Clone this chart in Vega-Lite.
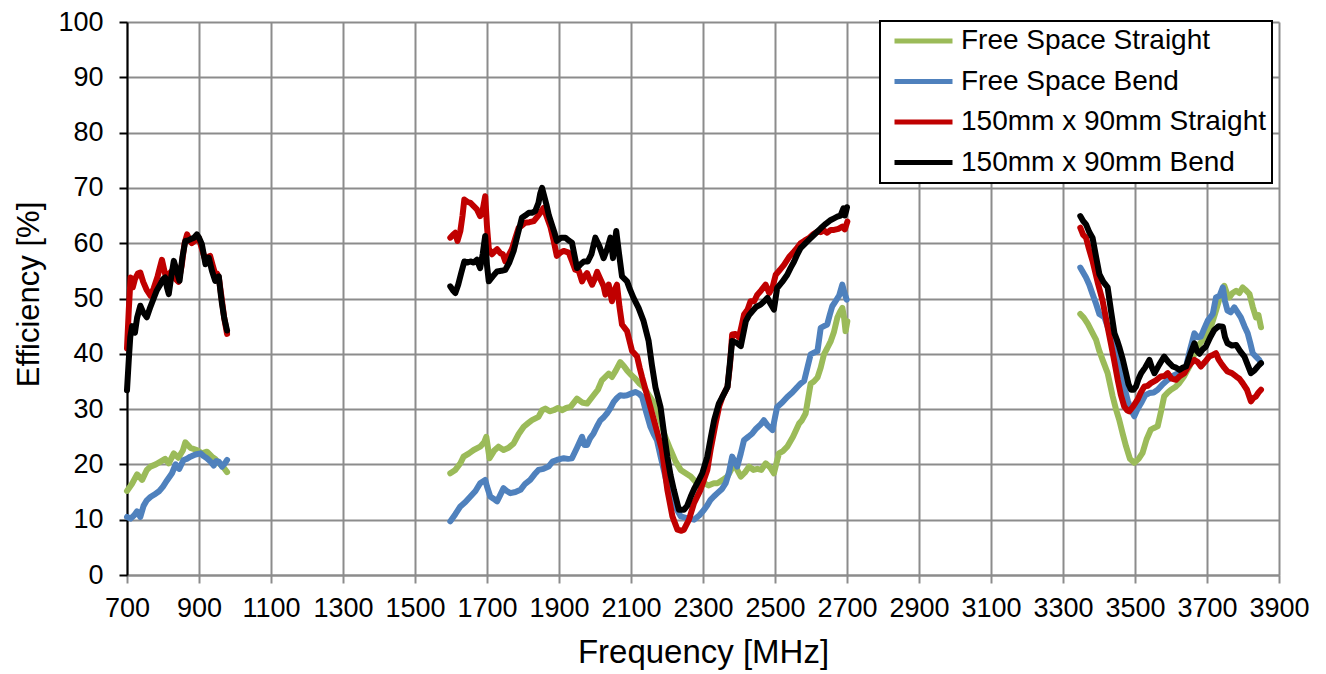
{
"$schema": "https://vega.github.io/schema/vega-lite/v6.json",
"width": 1152, "height": 553,
"autosize": {"type": "none"},
"padding": {"left": 127, "top": 22, "right": 47, "bottom": 99},
"background": "white",
"config": {"view": {"stroke": null}, "font": "Liberation Sans", "legend": {"strokeWidth": 2}},
"datasets": {
"names": [
{"s":"g","name":"Free Space Straight"},
{"s":"b","name":"Free Space Bend"},
{"s":"r","name":"150mm x 90mm Straight"},
{"s":"k","name":"150mm x 90mm Bend"}
]},
"data": {"values": [
{"s":"g","b":1,"f":700,"v":15.2},{"s":"g","b":1,"f":714,"v":16.5},{"s":"g","b":1,"f":728,"v":18.2},{"s":"g","b":1,"f":742,"v":17.2},{"s":"g","b":1,"f":755,"v":19.0},{"s":"g","b":1,"f":765,"v":19.6},{"s":"g","b":1,"f":780,"v":20.0},{"s":"g","b":1,"f":793,"v":20.5},{"s":"g","b":1,"f":806,"v":21.0},{"s":"g","b":1,"f":816,"v":20.2},{"s":"g","b":1,"f":830,"v":22.0},{"s":"g","b":1,"f":843,"v":21.2},{"s":"g","b":1,"f":855,"v":22.5},{"s":"g","b":1,"f":862,"v":24.0},{"s":"g","b":1,"f":876,"v":23.0},{"s":"g","b":1,"f":894,"v":22.6},{"s":"g","b":1,"f":908,"v":22.0},{"s":"g","b":1,"f":922,"v":22.3},{"s":"g","b":1,"f":936,"v":21.4},{"s":"g","b":1,"f":945,"v":21.0},{"s":"g","b":1,"f":955,"v":20.2},{"s":"g","b":1,"f":964,"v":19.8},{"s":"g","b":1,"f":978,"v":18.6},
{"s":"g","b":2,"f":1598,"v":18.4},{"s":"g","b":2,"f":1612,"v":19.0},{"s":"g","b":2,"f":1626,"v":20.2},{"s":"g","b":2,"f":1635,"v":21.4},{"s":"g","b":2,"f":1650,"v":22.0},{"s":"g","b":2,"f":1663,"v":22.6},{"s":"g","b":2,"f":1681,"v":23.2},{"s":"g","b":2,"f":1692,"v":24.0},{"s":"g","b":2,"f":1698,"v":25.0},{"s":"g","b":2,"f":1707,"v":21.1},{"s":"g","b":2,"f":1720,"v":22.5},{"s":"g","b":2,"f":1732,"v":23.2},{"s":"g","b":2,"f":1746,"v":22.6},{"s":"g","b":2,"f":1760,"v":23.0},{"s":"g","b":2,"f":1774,"v":23.8},{"s":"g","b":2,"f":1788,"v":25.5},{"s":"g","b":2,"f":1802,"v":26.8},{"s":"g","b":2,"f":1815,"v":27.5},{"s":"g","b":2,"f":1825,"v":28.0},{"s":"g","b":2,"f":1843,"v":28.6},{"s":"g","b":2,"f":1853,"v":29.8},{"s":"g","b":2,"f":1862,"v":30.1},{"s":"g","b":2,"f":1874,"v":29.6},{"s":"g","b":2,"f":1885,"v":29.8},{"s":"g","b":2,"f":1897,"v":30.2},{"s":"g","b":2,"f":1908,"v":29.8},{"s":"g","b":2,"f":1920,"v":30.2},{"s":"g","b":2,"f":1932,"v":30.4},{"s":"g","b":2,"f":1950,"v":31.9},{"s":"g","b":2,"f":1964,"v":31.2},{"s":"g","b":2,"f":1978,"v":31.0},{"s":"g","b":2,"f":1996,"v":32.5},{"s":"g","b":2,"f":2008,"v":33.5},{"s":"g","b":2,"f":2019,"v":35.2},{"s":"g","b":2,"f":2038,"v":36.4},{"s":"g","b":2,"f":2047,"v":35.8},{"s":"g","b":2,"f":2058,"v":37.0},{"s":"g","b":2,"f":2070,"v":38.5},{"s":"g","b":2,"f":2080,"v":37.8},{"s":"g","b":2,"f":2089,"v":37.0},{"s":"g","b":2,"f":2100,"v":36.2},{"s":"g","b":2,"f":2112,"v":35.5},{"s":"g","b":2,"f":2124,"v":34.6},{"s":"g","b":2,"f":2135,"v":34.0},{"s":"g","b":2,"f":2150,"v":32.5},{"s":"g","b":2,"f":2160,"v":31.5},{"s":"g","b":2,"f":2172,"v":30.0},{"s":"g","b":2,"f":2182,"v":27.8},{"s":"g","b":2,"f":2195,"v":25.0},{"s":"g","b":2,"f":2210,"v":22.6},{"s":"g","b":2,"f":2224,"v":20.5},{"s":"g","b":2,"f":2238,"v":19.0},{"s":"g","b":2,"f":2252,"v":18.4},{"s":"g","b":2,"f":2266,"v":17.8},{"s":"g","b":2,"f":2280,"v":16.8},{"s":"g","b":2,"f":2293,"v":16.0},{"s":"g","b":2,"f":2303,"v":16.6},{"s":"g","b":2,"f":2315,"v":16.2},{"s":"g","b":2,"f":2330,"v":16.6},{"s":"g","b":2,"f":2340,"v":16.6},{"s":"g","b":2,"f":2355,"v":17.2},{"s":"g","b":2,"f":2368,"v":17.8},{"s":"g","b":2,"f":2378,"v":19.0},{"s":"g","b":2,"f":2386,"v":20.8},{"s":"g","b":2,"f":2395,"v":19.0},{"s":"g","b":2,"f":2405,"v":17.8},{"s":"g","b":2,"f":2416,"v":18.5},{"s":"g","b":2,"f":2428,"v":19.6},{"s":"g","b":2,"f":2440,"v":19.0},{"s":"g","b":2,"f":2451,"v":19.2},{"s":"g","b":2,"f":2462,"v":19.0},{"s":"g","b":2,"f":2474,"v":20.2},{"s":"g","b":2,"f":2486,"v":19.5},{"s":"g","b":2,"f":2497,"v":18.4},{"s":"g","b":2,"f":2511,"v":22.0},{"s":"g","b":2,"f":2522,"v":22.4},{"s":"g","b":2,"f":2534,"v":23.2},{"s":"g","b":2,"f":2550,"v":25.0},{"s":"g","b":2,"f":2567,"v":27.4},{"s":"g","b":2,"f":2575,"v":28.0},{"s":"g","b":2,"f":2585,"v":29.2},{"s":"g","b":2,"f":2599,"v":34.6},{"s":"g","b":2,"f":2608,"v":35.0},{"s":"g","b":2,"f":2618,"v":35.7},{"s":"g","b":2,"f":2627,"v":37.5},{"s":"g","b":2,"f":2636,"v":39.9},{"s":"g","b":2,"f":2645,"v":41.0},{"s":"g","b":2,"f":2655,"v":42.3},{"s":"g","b":2,"f":2664,"v":44.0},{"s":"g","b":2,"f":2673,"v":46.5},{"s":"g","b":2,"f":2680,"v":47.5},{"s":"g","b":2,"f":2687,"v":48.3},{"s":"g","b":2,"f":2692,"v":46.5},{"s":"g","b":2,"f":2696,"v":44.1},{"s":"g","b":2,"f":2701,"v":45.9},
{"s":"g","b":3,"f":3348,"v":47.2},{"s":"g","b":3,"f":3358,"v":46.5},{"s":"g","b":3,"f":3369,"v":45.4},{"s":"g","b":3,"f":3380,"v":44.0},{"s":"g","b":3,"f":3392,"v":42.5},{"s":"g","b":3,"f":3401,"v":40.5},{"s":"g","b":3,"f":3410,"v":38.9},{"s":"g","b":3,"f":3424,"v":36.5},{"s":"g","b":3,"f":3438,"v":32.3},{"s":"g","b":3,"f":3447,"v":30.0},{"s":"g","b":3,"f":3456,"v":28.1},{"s":"g","b":3,"f":3466,"v":25.5},{"s":"g","b":3,"f":3475,"v":23.3},{"s":"g","b":3,"f":3486,"v":21.0},{"s":"g","b":3,"f":3498,"v":20.3},{"s":"g","b":3,"f":3510,"v":21.0},{"s":"g","b":3,"f":3521,"v":22.1},{"s":"g","b":3,"f":3532,"v":24.5},{"s":"g","b":3,"f":3544,"v":26.3},{"s":"g","b":3,"f":3553,"v":26.6},{"s":"g","b":3,"f":3563,"v":26.9},{"s":"g","b":3,"f":3572,"v":29.5},{"s":"g","b":3,"f":3581,"v":32.3},{"s":"g","b":3,"f":3591,"v":33.0},{"s":"g","b":3,"f":3600,"v":33.5},{"s":"g","b":3,"f":3612,"v":34.0},{"s":"g","b":3,"f":3623,"v":34.7},{"s":"g","b":3,"f":3637,"v":36.0},{"s":"g","b":3,"f":3651,"v":37.7},{"s":"g","b":3,"f":3662,"v":39.5},{"s":"g","b":3,"f":3674,"v":41.3},{"s":"g","b":3,"f":3688,"v":42.5},{"s":"g","b":3,"f":3702,"v":43.7},{"s":"g","b":3,"f":3714,"v":45.5},{"s":"g","b":3,"f":3725,"v":47.8},{"s":"g","b":3,"f":3737,"v":50.5},{"s":"g","b":3,"f":3748,"v":52.3},{"s":"g","b":3,"f":3755,"v":51.0},{"s":"g","b":3,"f":3762,"v":50.2},{"s":"g","b":3,"f":3771,"v":51.0},{"s":"g","b":3,"f":3781,"v":51.4},{"s":"g","b":3,"f":3790,"v":51.0},{"s":"g","b":3,"f":3799,"v":52.0},{"s":"g","b":3,"f":3808,"v":51.5},{"s":"g","b":3,"f":3818,"v":50.8},{"s":"g","b":3,"f":3827,"v":48.5},{"s":"g","b":3,"f":3836,"v":46.6},{"s":"g","b":3,"f":3843,"v":47.0},{"s":"g","b":3,"f":3850,"v":44.8},
{"s":"b","b":1,"f":700,"v":10.5},{"s":"b","b":1,"f":710,"v":10.2},{"s":"b","b":1,"f":720,"v":10.8},{"s":"b","b":1,"f":728,"v":11.5},{"s":"b","b":1,"f":737,"v":10.5},{"s":"b","b":1,"f":746,"v":12.5},{"s":"b","b":1,"f":755,"v":13.5},{"s":"b","b":1,"f":765,"v":14.1},{"s":"b","b":1,"f":775,"v":14.5},{"s":"b","b":1,"f":790,"v":15.2},{"s":"b","b":1,"f":800,"v":16.0},{"s":"b","b":1,"f":811,"v":17.1},{"s":"b","b":1,"f":825,"v":18.4},{"s":"b","b":1,"f":835,"v":20.0},{"s":"b","b":1,"f":845,"v":19.2},{"s":"b","b":1,"f":857,"v":20.8},{"s":"b","b":1,"f":866,"v":21.0},{"s":"b","b":1,"f":876,"v":21.4},{"s":"b","b":1,"f":890,"v":21.8},{"s":"b","b":1,"f":904,"v":22.0},{"s":"b","b":1,"f":913,"v":21.5},{"s":"b","b":1,"f":922,"v":21.1},{"s":"b","b":1,"f":932,"v":20.5},{"s":"b","b":1,"f":941,"v":19.8},{"s":"b","b":1,"f":948,"v":20.6},{"s":"b","b":1,"f":955,"v":20.5},{"s":"b","b":1,"f":964,"v":19.6},{"s":"b","b":1,"f":972,"v":20.2},{"s":"b","b":1,"f":978,"v":20.8},
{"s":"b","b":2,"f":1598,"v":9.7},{"s":"b","b":2,"f":1612,"v":11.0},{"s":"b","b":2,"f":1626,"v":12.4},{"s":"b","b":2,"f":1640,"v":13.2},{"s":"b","b":2,"f":1654,"v":14.2},{"s":"b","b":2,"f":1668,"v":15.2},{"s":"b","b":2,"f":1681,"v":16.6},{"s":"b","b":2,"f":1695,"v":17.2},{"s":"b","b":2,"f":1700,"v":16.0},{"s":"b","b":2,"f":1709,"v":14.2},{"s":"b","b":2,"f":1718,"v":13.8},{"s":"b","b":2,"f":1728,"v":13.3},{"s":"b","b":2,"f":1737,"v":14.5},{"s":"b","b":2,"f":1746,"v":15.7},{"s":"b","b":2,"f":1755,"v":15.2},{"s":"b","b":2,"f":1765,"v":14.8},{"s":"b","b":2,"f":1779,"v":15.0},{"s":"b","b":2,"f":1793,"v":15.4},{"s":"b","b":2,"f":1806,"v":16.5},{"s":"b","b":2,"f":1820,"v":17.2},{"s":"b","b":2,"f":1832,"v":18.2},{"s":"b","b":2,"f":1843,"v":19.0},{"s":"b","b":2,"f":1857,"v":19.2},{"s":"b","b":2,"f":1871,"v":19.6},{"s":"b","b":2,"f":1882,"v":20.5},{"s":"b","b":2,"f":1894,"v":20.8},{"s":"b","b":2,"f":1905,"v":21.0},{"s":"b","b":2,"f":1913,"v":21.1},{"s":"b","b":2,"f":1925,"v":21.0},{"s":"b","b":2,"f":1936,"v":21.1},{"s":"b","b":2,"f":1950,"v":23.0},{"s":"b","b":2,"f":1964,"v":25.0},{"s":"b","b":2,"f":1971,"v":23.5},{"s":"b","b":2,"f":1978,"v":23.5},{"s":"b","b":2,"f":1987,"v":24.8},{"s":"b","b":2,"f":1996,"v":25.6},{"s":"b","b":2,"f":2005,"v":26.8},{"s":"b","b":2,"f":2015,"v":28.0},{"s":"b","b":2,"f":2024,"v":28.5},{"s":"b","b":2,"f":2033,"v":29.2},{"s":"b","b":2,"f":2043,"v":30.2},{"s":"b","b":2,"f":2052,"v":31.3},{"s":"b","b":2,"f":2061,"v":32.0},{"s":"b","b":2,"f":2070,"v":32.5},{"s":"b","b":2,"f":2080,"v":32.4},{"s":"b","b":2,"f":2089,"v":32.5},{"s":"b","b":2,"f":2100,"v":32.8},{"s":"b","b":2,"f":2112,"v":33.1},{"s":"b","b":2,"f":2122,"v":32.8},{"s":"b","b":2,"f":2131,"v":32.2},{"s":"b","b":2,"f":2142,"v":29.5},{"s":"b","b":2,"f":2154,"v":26.8},{"s":"b","b":2,"f":2163,"v":25.5},{"s":"b","b":2,"f":2172,"v":24.4},{"s":"b","b":2,"f":2182,"v":21.5},{"s":"b","b":2,"f":2191,"v":19.0},{"s":"b","b":2,"f":2200,"v":16.5},{"s":"b","b":2,"f":2210,"v":14.2},{"s":"b","b":2,"f":2219,"v":13.0},{"s":"b","b":2,"f":2228,"v":11.8},{"s":"b","b":2,"f":2238,"v":10.6},{"s":"b","b":2,"f":2255,"v":10.3},{"s":"b","b":2,"f":2275,"v":10.0},{"s":"b","b":2,"f":2290,"v":10.8},{"s":"b","b":2,"f":2303,"v":11.8},{"s":"b","b":2,"f":2312,"v":12.6},{"s":"b","b":2,"f":2321,"v":13.6},{"s":"b","b":2,"f":2330,"v":14.2},{"s":"b","b":2,"f":2340,"v":14.8},{"s":"b","b":2,"f":2352,"v":15.5},{"s":"b","b":2,"f":2363,"v":16.6},{"s":"b","b":2,"f":2372,"v":18.5},{"s":"b","b":2,"f":2381,"v":21.4},{"s":"b","b":2,"f":2388,"v":20.5},{"s":"b","b":2,"f":2395,"v":19.6},{"s":"b","b":2,"f":2405,"v":22.0},{"s":"b","b":2,"f":2414,"v":24.4},{"s":"b","b":2,"f":2426,"v":25.0},{"s":"b","b":2,"f":2437,"v":25.6},{"s":"b","b":2,"f":2448,"v":26.5},{"s":"b","b":2,"f":2460,"v":27.2},{"s":"b","b":2,"f":2469,"v":28.0},{"s":"b","b":2,"f":2480,"v":27.0},{"s":"b","b":2,"f":2493,"v":26.2},{"s":"b","b":2,"f":2500,"v":28.5},{"s":"b","b":2,"f":2506,"v":30.4},{"s":"b","b":2,"f":2520,"v":31.2},{"s":"b","b":2,"f":2534,"v":32.2},{"s":"b","b":2,"f":2548,"v":33.0},{"s":"b","b":2,"f":2562,"v":34.0},{"s":"b","b":2,"f":2571,"v":34.6},{"s":"b","b":2,"f":2581,"v":35.1},{"s":"b","b":2,"f":2590,"v":37.5},{"s":"b","b":2,"f":2599,"v":39.9},{"s":"b","b":2,"f":2608,"v":40.2},{"s":"b","b":2,"f":2618,"v":40.5},{"s":"b","b":2,"f":2627,"v":44.7},{"s":"b","b":2,"f":2636,"v":45.0},{"s":"b","b":2,"f":2645,"v":45.3},{"s":"b","b":2,"f":2652,"v":47.0},{"s":"b","b":2,"f":2659,"v":48.6},{"s":"b","b":2,"f":2668,"v":49.5},{"s":"b","b":2,"f":2678,"v":50.5},{"s":"b","b":2,"f":2687,"v":52.5},{"s":"b","b":2,"f":2693,"v":51.0},{"s":"b","b":2,"f":2699,"v":49.8},
{"s":"b","b":3,"f":3348,"v":55.6},{"s":"b","b":3,"f":3364,"v":53.8},{"s":"b","b":3,"f":3373,"v":52.5},{"s":"b","b":3,"f":3382,"v":50.8},{"s":"b","b":3,"f":3392,"v":49.0},{"s":"b","b":3,"f":3401,"v":47.2},{"s":"b","b":3,"f":3415,"v":46.6},{"s":"b","b":3,"f":3429,"v":44.0},{"s":"b","b":3,"f":3443,"v":40.7},{"s":"b","b":3,"f":3456,"v":37.5},{"s":"b","b":3,"f":3470,"v":34.1},{"s":"b","b":3,"f":3480,"v":31.5},{"s":"b","b":3,"f":3489,"v":29.9},{"s":"b","b":3,"f":3498,"v":28.7},{"s":"b","b":3,"f":3507,"v":30.0},{"s":"b","b":3,"f":3517,"v":31.1},{"s":"b","b":3,"f":3528,"v":32.5},{"s":"b","b":3,"f":3540,"v":32.9},{"s":"b","b":3,"f":3552,"v":33.0},{"s":"b","b":3,"f":3563,"v":33.5},{"s":"b","b":3,"f":3577,"v":34.5},{"s":"b","b":3,"f":3591,"v":35.3},{"s":"b","b":3,"f":3605,"v":36.0},{"s":"b","b":3,"f":3620,"v":36.5},{"s":"b","b":3,"f":3632,"v":37.0},{"s":"b","b":3,"f":3642,"v":37.7},{"s":"b","b":3,"f":3652,"v":40.5},{"s":"b","b":3,"f":3665,"v":43.7},{"s":"b","b":3,"f":3674,"v":43.0},{"s":"b","b":3,"f":3683,"v":43.1},{"s":"b","b":3,"f":3692,"v":44.5},{"s":"b","b":3,"f":3702,"v":46.0},{"s":"b","b":3,"f":3716,"v":47.2},{"s":"b","b":3,"f":3725,"v":50.2},{"s":"b","b":3,"f":3735,"v":50.5},{"s":"b","b":3,"f":3744,"v":52.0},{"s":"b","b":3,"f":3750,"v":49.5},{"s":"b","b":3,"f":3757,"v":47.8},{"s":"b","b":3,"f":3766,"v":47.5},{"s":"b","b":3,"f":3776,"v":48.4},{"s":"b","b":3,"f":3785,"v":47.5},{"s":"b","b":3,"f":3794,"v":46.6},{"s":"b","b":3,"f":3804,"v":45.0},{"s":"b","b":3,"f":3813,"v":43.7},{"s":"b","b":3,"f":3820,"v":42.0},{"s":"b","b":3,"f":3827,"v":40.1},{"s":"b","b":3,"f":3836,"v":39.5},{"s":"b","b":3,"f":3845,"v":38.9},{"s":"b","b":3,"f":3850,"v":38.3},
{"s":"r","b":1,"f":700,"v":41.0},{"s":"r","b":1,"f":705,"v":48.0},{"s":"r","b":1,"f":710,"v":53.8},{"s":"r","b":1,"f":716,"v":52.0},{"s":"r","b":1,"f":722,"v":53.5},{"s":"r","b":1,"f":730,"v":54.5},{"s":"r","b":1,"f":737,"v":54.7},{"s":"r","b":1,"f":745,"v":53.0},{"s":"r","b":1,"f":755,"v":51.5},{"s":"r","b":1,"f":765,"v":50.5},{"s":"r","b":1,"f":774,"v":51.8},{"s":"r","b":1,"f":785,"v":54.0},{"s":"r","b":1,"f":797,"v":57.0},{"s":"r","b":1,"f":804,"v":55.0},{"s":"r","b":1,"f":811,"v":53.0},{"s":"r","b":1,"f":818,"v":54.5},{"s":"r","b":1,"f":825,"v":55.0},{"s":"r","b":1,"f":835,"v":53.5},{"s":"r","b":1,"f":843,"v":53.0},{"s":"r","b":1,"f":852,"v":56.0},{"s":"r","b":1,"f":860,"v":60.0},{"s":"r","b":1,"f":867,"v":61.6},{"s":"r","b":1,"f":874,"v":60.5},{"s":"r","b":1,"f":880,"v":60.0},{"s":"r","b":1,"f":890,"v":60.5},{"s":"r","b":1,"f":899,"v":61.0},{"s":"r","b":1,"f":908,"v":59.0},{"s":"r","b":1,"f":918,"v":56.8},{"s":"r","b":1,"f":925,"v":57.5},{"s":"r","b":1,"f":931,"v":57.7},{"s":"r","b":1,"f":938,"v":56.0},{"s":"r","b":1,"f":945,"v":54.4},{"s":"r","b":1,"f":950,"v":54.5},{"s":"r","b":1,"f":955,"v":53.8},{"s":"r","b":1,"f":962,"v":50.5},{"s":"r","b":1,"f":970,"v":46.5},{"s":"r","b":1,"f":978,"v":43.6},
{"s":"r","b":2,"f":1598,"v":61.0},{"s":"r","b":2,"f":1605,"v":61.5},{"s":"r","b":2,"f":1612,"v":61.9},{"s":"r","b":2,"f":1618,"v":60.4},{"s":"r","b":2,"f":1626,"v":62.2},{"s":"r","b":2,"f":1632,"v":65.0},{"s":"r","b":2,"f":1637,"v":67.9},{"s":"r","b":2,"f":1645,"v":67.5},{"s":"r","b":2,"f":1654,"v":67.3},{"s":"r","b":2,"f":1663,"v":66.7},{"s":"r","b":2,"f":1672,"v":66.1},{"s":"r","b":2,"f":1681,"v":64.9},{"s":"r","b":2,"f":1688,"v":66.0},{"s":"r","b":2,"f":1695,"v":68.5},{"s":"r","b":2,"f":1700,"v":63.0},{"s":"r","b":2,"f":1705,"v":59.0},{"s":"r","b":2,"f":1714,"v":58.0},{"s":"r","b":2,"f":1721,"v":58.5},{"s":"r","b":2,"f":1728,"v":58.9},{"s":"r","b":2,"f":1737,"v":58.2},{"s":"r","b":2,"f":1744,"v":58.0},{"s":"r","b":2,"f":1751,"v":56.7},{"s":"r","b":2,"f":1760,"v":57.8},{"s":"r","b":2,"f":1769,"v":58.9},{"s":"r","b":2,"f":1778,"v":60.8},{"s":"r","b":2,"f":1788,"v":62.8},{"s":"r","b":2,"f":1797,"v":63.2},{"s":"r","b":2,"f":1806,"v":63.7},{"s":"r","b":2,"f":1818,"v":63.8},{"s":"r","b":2,"f":1830,"v":64.0},{"s":"r","b":2,"f":1840,"v":64.8},{"s":"r","b":2,"f":1848,"v":65.5},{"s":"r","b":2,"f":1857,"v":66.4},{"s":"r","b":2,"f":1866,"v":64.8},{"s":"r","b":2,"f":1876,"v":63.0},{"s":"r","b":2,"f":1885,"v":60.5},{"s":"r","b":2,"f":1894,"v":57.7},{"s":"r","b":2,"f":1904,"v":58.3},{"s":"r","b":2,"f":1913,"v":58.6},{"s":"r","b":2,"f":1927,"v":58.3},{"s":"r","b":2,"f":1936,"v":56.8},{"s":"r","b":2,"f":1945,"v":55.2},{"s":"r","b":2,"f":1955,"v":55.0},{"s":"r","b":2,"f":1964,"v":53.1},{"s":"r","b":2,"f":1971,"v":54.0},{"s":"r","b":2,"f":1978,"v":54.6},{"s":"r","b":2,"f":1985,"v":53.5},{"s":"r","b":2,"f":1992,"v":52.5},{"s":"r","b":2,"f":1999,"v":53.5},{"s":"r","b":2,"f":2006,"v":54.8},{"s":"r","b":2,"f":2015,"v":53.5},{"s":"r","b":2,"f":2024,"v":52.2},{"s":"r","b":2,"f":2029,"v":50.7},{"s":"r","b":2,"f":2038,"v":52.5},{"s":"r","b":2,"f":2047,"v":49.5},{"s":"r","b":2,"f":2054,"v":51.5},{"s":"r","b":2,"f":2061,"v":52.5},{"s":"r","b":2,"f":2068,"v":48.5},{"s":"r","b":2,"f":2075,"v":45.3},{"s":"r","b":2,"f":2089,"v":44.1},{"s":"r","b":2,"f":2103,"v":40.5},{"s":"r","b":2,"f":2117,"v":39.5},{"s":"r","b":2,"f":2124,"v":37.5},{"s":"r","b":2,"f":2131,"v":35.7},{"s":"r","b":2,"f":2149,"v":31.5},{"s":"r","b":2,"f":2168,"v":27.0},{"s":"r","b":2,"f":2186,"v":22.6},{"s":"r","b":2,"f":2201,"v":15.4},{"s":"r","b":2,"f":2215,"v":10.6},{"s":"r","b":2,"f":2229,"v":8.2},{"s":"r","b":2,"f":2240,"v":8.0},{"s":"r","b":2,"f":2247,"v":8.2},{"s":"r","b":2,"f":2261,"v":10.0},{"s":"r","b":2,"f":2275,"v":13.0},{"s":"r","b":2,"f":2293,"v":15.4},{"s":"r","b":2,"f":2312,"v":19.0},{"s":"r","b":2,"f":2321,"v":22.6},{"s":"r","b":2,"f":2335,"v":27.4},{"s":"r","b":2,"f":2345,"v":30.5},{"s":"r","b":2,"f":2354,"v":32.2},{"s":"r","b":2,"f":2368,"v":34.0},{"s":"r","b":2,"f":2375,"v":38.0},{"s":"r","b":2,"f":2381,"v":43.5},{"s":"r","b":2,"f":2390,"v":43.6},{"s":"r","b":2,"f":2400,"v":43.0},{"s":"r","b":2,"f":2407,"v":45.0},{"s":"r","b":2,"f":2414,"v":47.1},{"s":"r","b":2,"f":2424,"v":48.0},{"s":"r","b":2,"f":2432,"v":49.5},{"s":"r","b":2,"f":2442,"v":49.5},{"s":"r","b":2,"f":2451,"v":50.7},{"s":"r","b":2,"f":2462,"v":51.5},{"s":"r","b":2,"f":2474,"v":52.5},{"s":"r","b":2,"f":2484,"v":51.0},{"s":"r","b":2,"f":2493,"v":52.0},{"s":"r","b":2,"f":2502,"v":54.3},{"s":"r","b":2,"f":2514,"v":55.2},{"s":"r","b":2,"f":2525,"v":56.1},{"s":"r","b":2,"f":2539,"v":57.5},{"s":"r","b":2,"f":2553,"v":58.5},{"s":"r","b":2,"f":2562,"v":59.2},{"s":"r","b":2,"f":2571,"v":60.0},{"s":"r","b":2,"f":2583,"v":60.5},{"s":"r","b":2,"f":2594,"v":60.9},{"s":"r","b":2,"f":2606,"v":61.6},{"s":"r","b":2,"f":2618,"v":62.1},{"s":"r","b":2,"f":2627,"v":62.0},{"s":"r","b":2,"f":2636,"v":62.3},{"s":"r","b":2,"f":2645,"v":61.9},{"s":"r","b":2,"f":2655,"v":62.4},{"s":"r","b":2,"f":2664,"v":62.4},{"s":"r","b":2,"f":2676,"v":62.6},{"s":"r","b":2,"f":2687,"v":63.0},{"s":"r","b":2,"f":2694,"v":62.5},{"s":"r","b":2,"f":2701,"v":63.9},
{"s":"r","b":3,"f":3348,"v":62.8},{"s":"r","b":3,"f":3356,"v":61.5},{"s":"r","b":3,"f":3364,"v":61.0},{"s":"r","b":3,"f":3372,"v":59.0},{"s":"r","b":3,"f":3382,"v":56.8},{"s":"r","b":3,"f":3396,"v":53.0},{"s":"r","b":3,"f":3410,"v":49.6},{"s":"r","b":3,"f":3422,"v":45.5},{"s":"r","b":3,"f":3433,"v":41.9},{"s":"r","b":3,"f":3443,"v":38.5},{"s":"r","b":3,"f":3452,"v":35.3},{"s":"r","b":3,"f":3461,"v":32.5},{"s":"r","b":3,"f":3470,"v":30.5},{"s":"r","b":3,"f":3478,"v":29.8},{"s":"r","b":3,"f":3484,"v":29.6},{"s":"r","b":3,"f":3495,"v":30.5},{"s":"r","b":3,"f":3507,"v":31.7},{"s":"r","b":3,"f":3516,"v":33.0},{"s":"r","b":3,"f":3526,"v":34.1},{"s":"r","b":3,"f":3535,"v":34.2},{"s":"r","b":3,"f":3544,"v":34.7},{"s":"r","b":3,"f":3558,"v":35.2},{"s":"r","b":3,"f":3572,"v":35.9},{"s":"r","b":3,"f":3582,"v":36.0},{"s":"r","b":3,"f":3591,"v":36.5},{"s":"r","b":3,"f":3602,"v":35.5},{"s":"r","b":3,"f":3614,"v":35.3},{"s":"r","b":3,"f":3625,"v":36.0},{"s":"r","b":3,"f":3637,"v":36.5},{"s":"r","b":3,"f":3646,"v":37.5},{"s":"r","b":3,"f":3656,"v":38.3},{"s":"r","b":3,"f":3665,"v":38.9},{"s":"r","b":3,"f":3674,"v":38.5},{"s":"r","b":3,"f":3683,"v":37.7},{"s":"r","b":3,"f":3694,"v":38.5},{"s":"r","b":3,"f":3706,"v":39.5},{"s":"r","b":3,"f":3716,"v":39.8},{"s":"r","b":3,"f":3725,"v":40.1},{"s":"r","b":3,"f":3732,"v":39.0},{"s":"r","b":3,"f":3739,"v":38.3},{"s":"r","b":3,"f":3748,"v":37.5},{"s":"r","b":3,"f":3757,"v":36.8},{"s":"r","b":3,"f":3769,"v":36.5},{"s":"r","b":3,"f":3781,"v":35.9},{"s":"r","b":3,"f":3790,"v":35.5},{"s":"r","b":3,"f":3799,"v":34.7},{"s":"r","b":3,"f":3811,"v":33.5},{"s":"r","b":3,"f":3822,"v":31.4},{"s":"r","b":3,"f":3829,"v":32.0},{"s":"r","b":3,"f":3836,"v":32.3},{"s":"r","b":3,"f":3843,"v":33.0},{"s":"r","b":3,"f":3850,"v":33.5},
{"s":"k","b":1,"f":700,"v":33.4},{"s":"k","b":1,"f":705,"v":39.0},{"s":"k","b":1,"f":709,"v":43.0},{"s":"k","b":1,"f":714,"v":45.0},{"s":"k","b":1,"f":718,"v":44.8},{"s":"k","b":1,"f":722,"v":43.8},{"s":"k","b":1,"f":728,"v":46.5},{"s":"k","b":1,"f":737,"v":48.7},{"s":"k","b":1,"f":745,"v":47.5},{"s":"k","b":1,"f":755,"v":46.6},{"s":"k","b":1,"f":765,"v":48.5},{"s":"k","b":1,"f":774,"v":50.0},{"s":"k","b":1,"f":783,"v":51.5},{"s":"k","b":1,"f":793,"v":52.6},{"s":"k","b":1,"f":800,"v":53.5},{"s":"k","b":1,"f":806,"v":53.8},{"s":"k","b":1,"f":811,"v":52.0},{"s":"k","b":1,"f":816,"v":50.8},{"s":"k","b":1,"f":823,"v":54.0},{"s":"k","b":1,"f":830,"v":56.8},{"s":"k","b":1,"f":838,"v":55.0},{"s":"k","b":1,"f":846,"v":53.2},{"s":"k","b":1,"f":854,"v":57.5},{"s":"k","b":1,"f":862,"v":60.4},{"s":"k","b":1,"f":870,"v":60.5},{"s":"k","b":1,"f":876,"v":60.7},{"s":"k","b":1,"f":886,"v":61.0},{"s":"k","b":1,"f":894,"v":61.6},{"s":"k","b":1,"f":900,"v":61.0},{"s":"k","b":1,"f":908,"v":59.8},{"s":"k","b":1,"f":913,"v":58.0},{"s":"k","b":1,"f":918,"v":56.2},{"s":"k","b":1,"f":927,"v":57.4},{"s":"k","b":1,"f":936,"v":55.0},{"s":"k","b":1,"f":945,"v":53.2},{"s":"k","b":1,"f":950,"v":53.8},{"s":"k","b":1,"f":955,"v":54.0},{"s":"k","b":1,"f":960,"v":51.0},{"s":"k","b":1,"f":964,"v":49.0},{"s":"k","b":1,"f":970,"v":46.5},{"s":"k","b":1,"f":978,"v":44.2},
{"s":"k","b":2,"f":1598,"v":52.2},{"s":"k","b":2,"f":1605,"v":51.5},{"s":"k","b":2,"f":1612,"v":51.0},{"s":"k","b":2,"f":1620,"v":52.5},{"s":"k","b":2,"f":1628,"v":54.5},{"s":"k","b":2,"f":1637,"v":56.7},{"s":"k","b":2,"f":1646,"v":56.5},{"s":"k","b":2,"f":1654,"v":56.7},{"s":"k","b":2,"f":1663,"v":56.5},{"s":"k","b":2,"f":1672,"v":57.0},{"s":"k","b":2,"f":1681,"v":55.5},{"s":"k","b":2,"f":1688,"v":58.0},{"s":"k","b":2,"f":1695,"v":61.3},{"s":"k","b":2,"f":1700,"v":56.0},{"s":"k","b":2,"f":1705,"v":53.1},{"s":"k","b":2,"f":1716,"v":54.0},{"s":"k","b":2,"f":1728,"v":54.9},{"s":"k","b":2,"f":1740,"v":55.0},{"s":"k","b":2,"f":1751,"v":55.2},{"s":"k","b":2,"f":1762,"v":56.5},{"s":"k","b":2,"f":1774,"v":58.6},{"s":"k","b":2,"f":1785,"v":61.5},{"s":"k","b":2,"f":1797,"v":64.6},{"s":"k","b":2,"f":1806,"v":65.0},{"s":"k","b":2,"f":1816,"v":65.5},{"s":"k","b":2,"f":1825,"v":65.5},{"s":"k","b":2,"f":1834,"v":65.8},{"s":"k","b":2,"f":1843,"v":67.3},{"s":"k","b":2,"f":1848,"v":69.0},{"s":"k","b":2,"f":1853,"v":70.0},{"s":"k","b":2,"f":1859,"v":68.5},{"s":"k","b":2,"f":1865,"v":67.0},{"s":"k","b":2,"f":1872,"v":65.0},{"s":"k","b":2,"f":1880,"v":63.4},{"s":"k","b":2,"f":1887,"v":62.0},{"s":"k","b":2,"f":1894,"v":60.4},{"s":"k","b":2,"f":1906,"v":61.0},{"s":"k","b":2,"f":1918,"v":61.0},{"s":"k","b":2,"f":1927,"v":60.5},{"s":"k","b":2,"f":1936,"v":60.1},{"s":"k","b":2,"f":1944,"v":57.5},{"s":"k","b":2,"f":1950,"v":55.5},{"s":"k","b":2,"f":1960,"v":56.2},{"s":"k","b":2,"f":1969,"v":56.7},{"s":"k","b":2,"f":1980,"v":56.7},{"s":"k","b":2,"f":1990,"v":58.0},{"s":"k","b":2,"f":2001,"v":61.0},{"s":"k","b":2,"f":2012,"v":59.5},{"s":"k","b":2,"f":2024,"v":57.3},{"s":"k","b":2,"f":2034,"v":59.0},{"s":"k","b":2,"f":2043,"v":61.0},{"s":"k","b":2,"f":2050,"v":57.3},{"s":"k","b":2,"f":2059,"v":62.2},{"s":"k","b":2,"f":2067,"v":58.0},{"s":"k","b":2,"f":2075,"v":54.0},{"s":"k","b":2,"f":2089,"v":53.1},{"s":"k","b":2,"f":2098,"v":51.5},{"s":"k","b":2,"f":2107,"v":50.1},{"s":"k","b":2,"f":2121,"v":48.3},{"s":"k","b":2,"f":2135,"v":45.9},{"s":"k","b":2,"f":2149,"v":42.3},{"s":"k","b":2,"f":2158,"v":38.0},{"s":"k","b":2,"f":2168,"v":33.9},{"s":"k","b":2,"f":2182,"v":30.4},{"s":"k","b":2,"f":2192,"v":25.5},{"s":"k","b":2,"f":2201,"v":21.4},{"s":"k","b":2,"f":2210,"v":18.0},{"s":"k","b":2,"f":2219,"v":15.4},{"s":"k","b":2,"f":2233,"v":11.8},{"s":"k","b":2,"f":2247,"v":11.8},{"s":"k","b":2,"f":2256,"v":12.5},{"s":"k","b":2,"f":2266,"v":14.2},{"s":"k","b":2,"f":2275,"v":15.5},{"s":"k","b":2,"f":2284,"v":16.6},{"s":"k","b":2,"f":2298,"v":18.4},{"s":"k","b":2,"f":2312,"v":21.4},{"s":"k","b":2,"f":2322,"v":25.0},{"s":"k","b":2,"f":2331,"v":28.0},{"s":"k","b":2,"f":2344,"v":31.0},{"s":"k","b":2,"f":2356,"v":32.5},{"s":"k","b":2,"f":2368,"v":34.0},{"s":"k","b":2,"f":2375,"v":38.5},{"s":"k","b":2,"f":2381,"v":42.3},{"s":"k","b":2,"f":2393,"v":42.0},{"s":"k","b":2,"f":2405,"v":41.4},{"s":"k","b":2,"f":2419,"v":45.9},{"s":"k","b":2,"f":2428,"v":47.0},{"s":"k","b":2,"f":2437,"v":47.7},{"s":"k","b":2,"f":2448,"v":48.5},{"s":"k","b":2,"f":2460,"v":48.9},{"s":"k","b":2,"f":2470,"v":49.5},{"s":"k","b":2,"f":2479,"v":50.1},{"s":"k","b":2,"f":2488,"v":49.0},{"s":"k","b":2,"f":2497,"v":48.0},{"s":"k","b":2,"f":2506,"v":51.9},{"s":"k","b":2,"f":2520,"v":53.0},{"s":"k","b":2,"f":2534,"v":54.3},{"s":"k","b":2,"f":2543,"v":55.5},{"s":"k","b":2,"f":2553,"v":56.7},{"s":"k","b":2,"f":2562,"v":58.0},{"s":"k","b":2,"f":2571,"v":59.1},{"s":"k","b":2,"f":2585,"v":60.0},{"s":"k","b":2,"f":2599,"v":60.9},{"s":"k","b":2,"f":2613,"v":61.8},{"s":"k","b":2,"f":2627,"v":62.7},{"s":"k","b":2,"f":2641,"v":63.5},{"s":"k","b":2,"f":2655,"v":64.2},{"s":"k","b":2,"f":2664,"v":64.5},{"s":"k","b":2,"f":2673,"v":64.8},{"s":"k","b":2,"f":2682,"v":65.0},{"s":"k","b":2,"f":2690,"v":66.3},{"s":"k","b":2,"f":2694,"v":65.0},{"s":"k","b":2,"f":2697,"v":65.7},{"s":"k","b":2,"f":2700,"v":66.5},
{"s":"k","b":3,"f":3348,"v":64.9},{"s":"k","b":3,"f":3356,"v":64.0},{"s":"k","b":3,"f":3364,"v":63.4},{"s":"k","b":3,"f":3373,"v":62.0},{"s":"k","b":3,"f":3382,"v":61.0},{"s":"k","b":3,"f":3392,"v":57.5},{"s":"k","b":3,"f":3401,"v":54.4},{"s":"k","b":3,"f":3412,"v":53.0},{"s":"k","b":3,"f":3424,"v":52.0},{"s":"k","b":3,"f":3434,"v":47.5},{"s":"k","b":3,"f":3443,"v":43.7},{"s":"k","b":3,"f":3450,"v":42.5},{"s":"k","b":3,"f":3456,"v":41.3},{"s":"k","b":3,"f":3466,"v":39.0},{"s":"k","b":3,"f":3475,"v":36.5},{"s":"k","b":3,"f":3482,"v":34.5},{"s":"k","b":3,"f":3489,"v":33.5},{"s":"k","b":3,"f":3496,"v":33.5},{"s":"k","b":3,"f":3503,"v":34.1},{"s":"k","b":3,"f":3510,"v":35.5},{"s":"k","b":3,"f":3517,"v":36.5},{"s":"k","b":3,"f":3528,"v":37.5},{"s":"k","b":3,"f":3540,"v":38.9},{"s":"k","b":3,"f":3547,"v":37.5},{"s":"k","b":3,"f":3554,"v":36.5},{"s":"k","b":3,"f":3567,"v":38.0},{"s":"k","b":3,"f":3581,"v":39.5},{"s":"k","b":3,"f":3593,"v":38.5},{"s":"k","b":3,"f":3605,"v":37.7},{"s":"k","b":3,"f":3614,"v":37.5},{"s":"k","b":3,"f":3623,"v":37.1},{"s":"k","b":3,"f":3633,"v":37.5},{"s":"k","b":3,"f":3642,"v":37.7},{"s":"k","b":3,"f":3654,"v":40.0},{"s":"k","b":3,"f":3665,"v":41.9},{"s":"k","b":3,"f":3672,"v":40.5},{"s":"k","b":3,"f":3679,"v":40.0},{"s":"k","b":3,"f":3688,"v":40.8},{"s":"k","b":3,"f":3697,"v":41.3},{"s":"k","b":3,"f":3709,"v":43.0},{"s":"k","b":3,"f":3720,"v":44.3},{"s":"k","b":3,"f":3732,"v":45.0},{"s":"k","b":3,"f":3744,"v":44.9},{"s":"k","b":3,"f":3750,"v":43.0},{"s":"k","b":3,"f":3757,"v":41.9},{"s":"k","b":3,"f":3769,"v":41.5},{"s":"k","b":3,"f":3781,"v":41.6},{"s":"k","b":3,"f":3792,"v":40.5},{"s":"k","b":3,"f":3804,"v":39.5},{"s":"k","b":3,"f":3813,"v":38.0},{"s":"k","b":3,"f":3822,"v":36.5},{"s":"k","b":3,"f":3832,"v":37.0},{"s":"k","b":3,"f":3841,"v":37.7},{"s":"k","b":3,"f":3850,"v":38.3}
]},
"transform": [
{"lookup": "s", "from": {"data": {"name": "names"}, "key": "s", "fields": ["name"]}}
],
"mark": {"type": "line", "strokeWidth": 6, "strokeCap": "round", "strokeJoin": "round"},
"encoding": {
"x": {"field": "f", "type": "quantitative",
 "scale": {"domain": [700, 3900], "nice": false, "zero": false},
 "axis": {"title": "Frequency [MHz]", "values": [700,900,1100,1300,1500,1700,1900,2100,2300,2500,2700,2900,3100,3300,3500,3700,3900], "format": "d",
  "grid": true, "gridColor": "#8c8c8c", "gridWidth": 2,
  "domainColor": "#8c8c8c", "domainWidth": 2, "tickColor": "#8c8c8c", "tickWidth": 2, "tickSize": 8,
  "labelFont": "Liberation Sans", "labelFontSize": 27, "labelColor": "black", "labelPadding": 12, "labelFlush": false, "labelOverlap": false,
  "titleFont": "Liberation Sans", "titleFontSize": 33, "titleFontWeight": "normal", "titleColor": "black", "titleY": 87, "titleBaseline": "alphabetic"}},
"y": {"field": "v", "type": "quantitative",
 "scale": {"domain": [0, 100], "nice": false},
 "axis": {"title": "Efficiency [%]", "values": [0,10,20,30,40,50,60,70,80,90,100],
  "grid": true, "gridColor": "#8c8c8c", "gridWidth": 2,
  "domainColor": "black", "domainWidth": 2, "tickColor": "black", "tickWidth": 2, "tickSize": 8,
  "labelFont": "Liberation Sans", "labelFontSize": 27, "labelColor": "black", "labelPadding": 16,
  "titleFont": "Liberation Sans", "titleFontSize": 31, "titleFontWeight": "normal", "titleColor": "black", "titleX": -89, "titleY": 272, "titleBaseline": "alphabetic", "titleAlign": "center", "titleAngle": -90}},
"color": {"field": "name", "type": "nominal", "title": null,
 "scale": {"domain": ["Free Space Straight", "Free Space Bend", "150mm x 90mm Straight", "150mm x 90mm Bend"], "range": ["#9BBB59", "#4F81BD", "#C00000", "#000000"]},
 "legend": {"orient": "none", "legendX": 753, "legendY": -1, "fillColor": "white", "strokeColor": "black",
  "padding": 6, "symbolOffset": 6, "symbolType": "stroke", "symbolSize": 3364, "symbolStrokeWidth": 5, "clipHeight": 28,
  "labelFont": "Liberation Sans", "labelFontSize": 28, "labelColor": "black", "labelOffset": 6, "rowPadding": 12.5, "labelLimit": 0}},
"detail": {"field": "b", "type": "nominal"}
}
}
